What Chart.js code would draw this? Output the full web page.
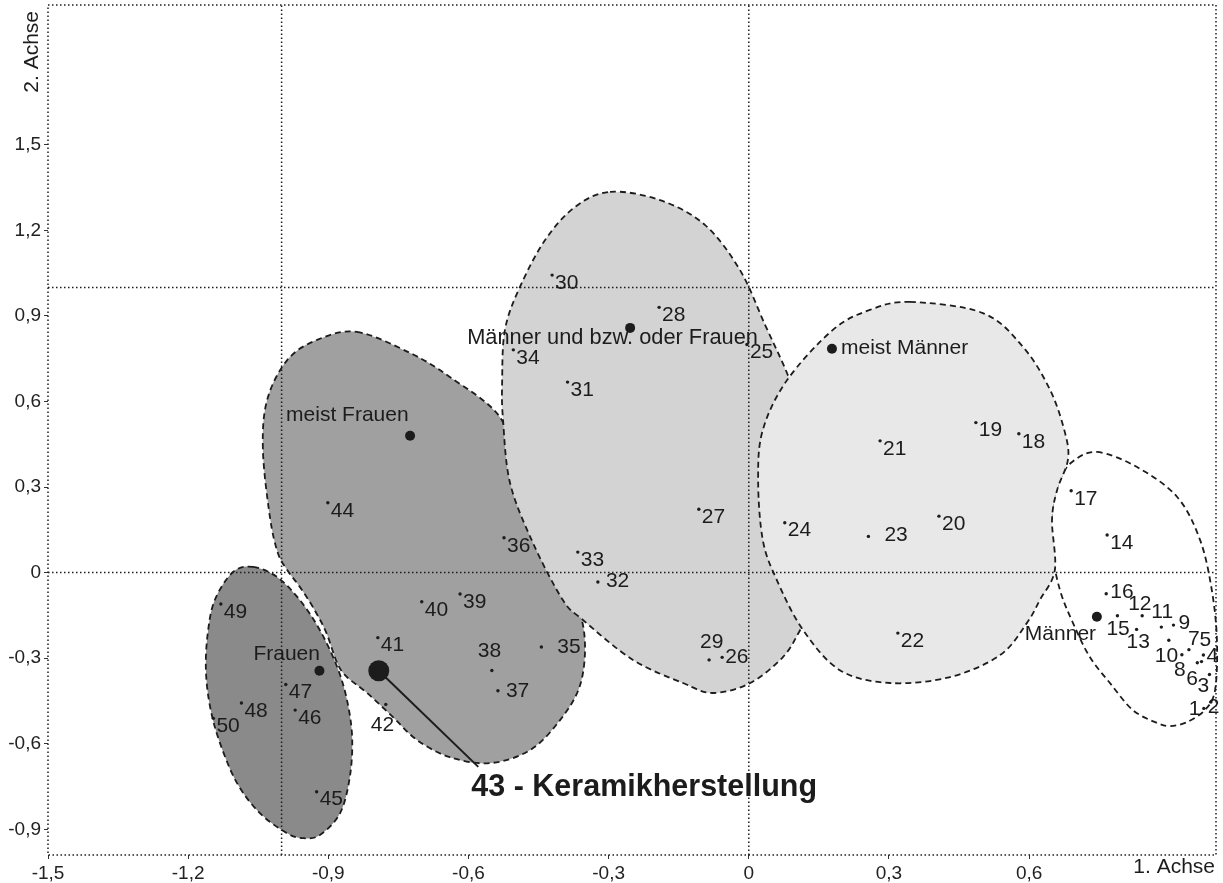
<!DOCTYPE html>
<html lang="de">
<head>
<meta charset="UTF-8">
<title>Korrespondenzanalyse: 1. und 2. Achse</title>
<script src="https://cdn.jsdelivr.net/npm/chart.js"></script>
<style>
  body { margin: 0; background: #fff; }
  #wrap { width: 1223px; height: 883px; }
</style>
</head>
<body>
<div id="wrap"><canvas id="chart" width="1223" height="883"></canvas></div>
<script>
// --- data (1. Achse = x, 2. Achse = y) ---
const itemLabels = ['1','2','3','4','5','6','7','8','9','10','11','12','13','14','15','16','17','18','19','20',
  '21','22','23','24','25','26','27','28','29','30','31','32','33','34','35','36','37','38','39','40',
  '41','42','43','44','45','46','47','48','49','50'];
const itemX = [0.974, 0.989, 0.986, 0.969, 0.973, 0.960, 0.942, 0.927, 0.909, 0.899,
  0.883, 0.842, 0.830, 0.767, 0.789, 0.765, 0.690, 0.578, 0.486, 0.407,
  0.281, 0.319, 0.256, 0.077, -0.004, -0.057, -0.107, -0.192, -0.085, -0.421,
  -0.388, -0.323, -0.366, -0.504, -0.444, -0.524, -0.537, -0.550, -0.618, -0.700,
  -0.794, -0.777, -0.792, -0.901, -0.925, -0.971, -0.991, -1.086, -1.130, -1.146];
const itemY = [-0.476, -0.454, -0.357, -0.312, -0.289, -0.316, -0.270, -0.288, -0.184, -0.237,
  -0.191, -0.151, -0.199, 0.132, -0.151, -0.074, 0.287, 0.487, 0.526, 0.198,
  0.462, -0.212, 0.127, 0.175, 0.800, -0.297, 0.222, 0.930, -0.306, 1.043,
  0.668, -0.033, 0.072, 0.781, -0.261, 0.122, -0.414, -0.343, -0.075, -0.102,
  -0.228, -0.462, -0.344, 0.245, -0.768, -0.482, -0.392, -0.457, -0.110, -0.511];

const highlightItem = '43';
const highlightText = '43 - Keramikherstellung';
const calloutAnchor = [-0.579, -0.681];

const groupNames = ['Frauen', 'meist Frauen', 'Männer und bzw. oder Frauen', 'meist Männer', 'Männer'];
const groupX = [-0.919, -0.725, -0.254, 0.178, 0.745];
const groupY = [-0.344, 0.480, 0.858, 0.785, -0.155];

const xTicks = [-1.5, -1.2, -0.9, -0.6, -0.3, 0, 0.3, 0.6];
const yTicks = [-0.9, -0.6, -0.3, 0, 0.3, 0.6, 0.9, 1.2, 1.5];
const refX = [-1, 0];
const refY = [0, 1];

// group outlines (data units)
const outlineMaenner = [[0.745,0.423],[0.831,0.370],[0.917,0.265],[0.966,0.114],[0.991,-0.061],[1.002,-0.236],
  [0.998,-0.412],[0.976,-0.482],[0.938,-0.524],[0.902,-0.538],[0.874,-0.527],[0.822,-0.482],[0.773,-0.387],
  [0.730,-0.296],[0.694,-0.177],[0.666,-0.061],[0.649,0.079],[0.649,0.219],[0.666,0.325],[0.692,0.388]];
const outlineMeistFrauen = [[-0.839,0.844],[-0.725,0.770],[-0.640,0.686],[-0.533,0.546],[-0.500,0.360],
  [-0.436,0.114],[-0.372,-0.096],[-0.351,-0.236],[-0.361,-0.394],[-0.404,-0.517],[-0.468,-0.622],
  [-0.554,-0.668],[-0.640,-0.647],[-0.710,-0.587],[-0.762,-0.506],[-0.817,-0.422],[-0.860,-0.366],
  [-0.881,-0.317],[-0.905,-0.208],[-0.933,-0.121],[-0.961,-0.050],[-0.988,0.009],[-1.008,0.069],
  [-1.025,0.195],[-1.040,0.430],[-1.031,0.605],[-0.988,0.745],[-0.924,0.816]];
const outlineFrauen = [[-1.061,0.020],[-1.010,-0.015],[-0.961,-0.096],[-0.918,-0.202],[-0.881,-0.331],
  [-0.860,-0.447],[-0.849,-0.577],[-0.854,-0.717],[-0.875,-0.844],[-0.918,-0.920],[-0.954,-0.931],
  [-0.988,-0.914],[-1.046,-0.844],[-1.095,-0.739],[-1.132,-0.597],[-1.153,-0.471],[-1.162,-0.342],
  [-1.158,-0.212],[-1.143,-0.096],[-1.104,0.002]];
const outlineGemischt = [[-0.297,1.335],[-0.190,1.306],[-0.094,1.219],[-0.019,1.061],[0.035,0.868],
  [0.088,0.675],[0.142,0.430],[0.163,0.149],[0.142,-0.096],[0.110,-0.201],[0.073,-0.296],[0.003,-0.387],
  [-0.077,-0.422],[-0.141,-0.387],[-0.248,-0.306],[-0.355,-0.166],[-0.398,-0.096],[-0.462,0.104],
  [-0.511,0.314],[-0.526,0.535],[-0.528,0.665],[-0.522,0.851],[-0.490,1.001],[-0.436,1.166],[-0.372,1.282]];
const outlineMeistMaenner = [[0.345,0.949],[0.501,0.910],[0.587,0.791],[0.645,0.640],[0.677,0.489],
  [0.683,0.395],[0.660,0.290],[0.649,0.184],[0.655,0.009],[0.623,-0.096],[0.595,-0.177],[0.538,-0.289],
  [0.431,-0.366],[0.302,-0.387],[0.195,-0.342],[0.116,-0.201],[0.060,-0.026],[0.030,0.114],[0.020,0.325],
  [0.030,0.500],[0.082,0.675],[0.180,0.851],[0.259,0.921]];

// drawing order and fills of the group areas
const regions = [
  { pts: outlineMaenner, fill: '#ffffff' },
  { pts: outlineMeistFrauen, fill: '#a0a0a0' },
  { pts: outlineFrauen, fill: '#8a8a8a' },
  { pts: outlineGemischt, fill: '#d3d3d3' },
  { pts: outlineMeistMaenner, fill: '#e8e8e8' }
];

// label placement: [dx to text start, dy to text middle] in px
const defaultOffset = [3, 8];
const labelOffsets = {
  '1': [-15, 1], '2': [-3, 5], '3': [-12, 12], '4': [5, -5], '5': [-4, -15], '6': [-11, 16],
  '7': [-1, -10], '8': [-8, 15], '9': [5, -2], '10': [-14, 16], '11': [-10, -15], '12': [-14, -11],
  '13': [-10, 13], '15': [-11, 14], '16': [4, -2], '23': [16, -1], '26': [3, 0], '29': [-9, -18],
  '32': [8, -1], '35': [16, 0], '37': [8, 0], '38': [-14, -19], '42': [-15, 21]
};
const groupOffsets = [[-66, -17], [-124, -21], [-163, 10], [9, -1], [-72, 17]];

const FONT = '"Liberation Sans", Arial, Helvetica, sans-serif';
const INK = '#1c1c1c';
const fmt = v => String(Math.round(v * 10) / 10).replace('.', ',');

const X_MIN = -1.5, X_MAX = 1.0, Y_MIN = -0.99, Y_MAX = 1.99;

const items = [], hl = [];
itemLabels.forEach((l, i) => {
  const p = { x: itemX[i], y: itemY[i], label: l };
  (l === highlightItem ? hl : items).push(p);
});

function smoothClosed(ctx, pts) {
  const n = pts.length;
  ctx.moveTo(pts[0][0], pts[0][1]);
  for (let i = 0; i < n; i++) {
    const p0 = pts[(i - 1 + n) % n], p1 = pts[i], p2 = pts[(i + 1) % n], p3 = pts[(i + 2) % n];
    ctx.bezierCurveTo(p1[0] + (p2[0] - p0[0]) / 6, p1[1] + (p2[1] - p0[1]) / 6,
                      p2[0] - (p3[0] - p1[0]) / 6, p2[1] - (p3[1] - p1[1]) / 6, p2[0], p2[1]);
  }
  ctx.closePath();
}

const areaPlugin = {
  id: 'areas',
  beforeDatasetsDraw(chart) {
    const { ctx, scales: { x, y } } = chart;
    ctx.save();
    regions.forEach(r => {
      const px = r.pts.map(p => [x.getPixelForValue(p[0]), y.getPixelForValue(p[1])]);
      ctx.beginPath();
      smoothClosed(ctx, px);
      ctx.fillStyle = r.fill;
      ctx.fill();
      ctx.setLineDash([6, 4]);
      ctx.lineWidth = 1.8;
      ctx.strokeStyle = INK;
      ctx.stroke();
    });
    ctx.restore();
  }
};

const textPlugin = {
  id: 'texts',
  afterDatasetsDraw(chart) {
    const { ctx, chartArea: a, scales: { x, y } } = chart;
    ctx.save();
    // dotted frame
    ctx.setLineDash([1.5, 2.5]);
    ctx.lineWidth = 1.5;
    ctx.strokeStyle = INK;
    ctx.strokeRect(a.left, a.top, a.right - a.left, a.bottom - a.top);
    ctx.setLineDash([]);

    ctx.fillStyle = INK;
    ctx.textBaseline = 'middle';
    ctx.textAlign = 'left';
    ctx.font = '21px ' + FONT;
    items.forEach(p => {
      const o = labelOffsets[p.label] || defaultOffset;
      ctx.fillText(p.label, x.getPixelForValue(p.x) + o[0], y.getPixelForValue(p.y) + o[1]);
    });
    groupNames.forEach((g, i) => {
      const o = groupOffsets[i];
      ctx.font = (g.length > 20 ? '21.8px ' : '21px ') + FONT;
      ctx.fillText(g, x.getPixelForValue(groupX[i]) + o[0], y.getPixelForValue(groupY[i]) + o[1]);
    });
    ctx.font = 'bold 30.5px ' + FONT;
    ctx.fillText(highlightText, x.getPixelForValue(calloutAnchor[0]) - 7, y.getPixelForValue(calloutAnchor[1]) + 21);

    // axis titles
    ctx.font = '21px ' + FONT;
    ctx.textAlign = 'right';
    ctx.fillText('1. Achse', a.right - 1, a.bottom + 12);
    ctx.translate(a.left - 16, a.top + 6);
    ctx.rotate(-Math.PI / 2);
    ctx.fillText('2. Achse', 0, 0);
    ctx.restore();
  }
};

const refSets = [
  ...refX.map(v => [{ x: v, y: Y_MIN }, { x: v, y: Y_MAX }]),
  ...refY.map(v => [{ x: X_MIN, y: v }, { x: X_MAX, y: v }])
].map(d => ({
  data: d, showLine: true, pointRadius: 0, borderColor: INK, borderWidth: 1.5,
  borderDash: [1.5, 2.5], order: 10
}));

new Chart(document.getElementById('chart'), {
  type: 'scatter',
  data: {
    datasets: [
      ...refSets,
      { data: [{ x: hl[0].x, y: hl[0].y }, { x: calloutAnchor[0], y: calloutAnchor[1] }],
        showLine: true, pointRadius: 0, borderColor: INK, borderWidth: 2, order: 5 },
      { data: items, pointRadius: 1.7, pointBackgroundColor: INK, pointBorderWidth: 0, order: 3 },
      { data: groupNames.map((g, i) => ({ x: groupX[i], y: groupY[i] })),
        pointRadius: 5, pointBackgroundColor: INK, pointBorderWidth: 0, order: 2 },
      { data: hl, pointRadius: 10.5, pointBackgroundColor: INK, pointBorderWidth: 0, order: 1 }
    ]
  },
  options: {
    responsive: false,
    animation: false,
    layout: { autoPadding: false, padding: { top: 5, right: 7, bottom: 0, left: 0 } },
    plugins: { legend: { display: false }, tooltip: { enabled: false } },
    scales: {
      x: {
        type: 'linear', min: X_MIN, max: X_MAX,
        afterBuildTicks: s => { s.ticks = xTicks.map(v => ({ value: v })); },
        afterFit: s => { s.height = 28; s.paddingLeft = 0; s.paddingRight = 0; },
        ticks: { callback: fmt, autoSkip: false, maxRotation: 0, padding: 3, color: '#222',
                 font: { family: FONT, size: 19 } },
        grid: { drawOnChartArea: false, drawTicks: true, tickLength: 4, color: '#333' },
        border: { display: false }
      },
      y: {
        type: 'linear', min: Y_MIN, max: Y_MAX,
        afterBuildTicks: s => { s.ticks = yTicks.map(v => ({ value: v })); },
        afterFit: s => { s.width = 48; s.paddingTop = 0; s.paddingBottom = 0; },
        ticks: { callback: fmt, autoSkip: false, padding: 3, color: '#222',
                 font: { family: FONT, size: 19 } },
        grid: { drawOnChartArea: false, drawTicks: true, tickLength: 4, color: '#333' },
        border: { display: false }
      }
    }
  },
  plugins: [areaPlugin, textPlugin]
});
</script>
</body>
</html>
